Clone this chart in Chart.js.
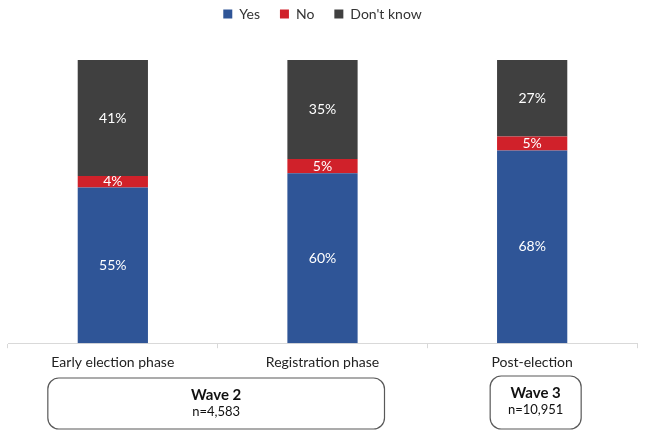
<!DOCTYPE html>
<html>
<head>
<meta charset="utf-8">
<script src="https://cdn.jsdelivr.net/npm/chart.js@4/dist/chart.umd.min.js"></script>
<style>
  html, body { margin: 0; padding: 0; background: #fff; }
  #wrap { width: 650px; height: 444px; }
</style>
</head>
<body>
<div id="wrap"><canvas id="stacked-bar-chart"></canvas></div>
<script>
// Chart data
var categories = ['Early election phase', 'Registration phase', 'Post-election'];
var yesValues = [55, 60, 68];
var noValues = [4, 5, 5];
var dontKnowValues = [41, 35, 27];

// Waves shown under the axis
var waveNames = ['Wave 2', 'Wave 3'];
var waveSamples = ['n=4,583', 'n=10,951'];
var waveFirstCategory = [0, 2];
var waveLastCategory = [1, 2];

var FONT = 'Lato, "Noto Sans", sans-serif';

// white percentage labels inside each segment
var segmentLabels = {
    id: 'segmentLabels',
    afterDatasetsDraw: function (chart) {
        var ctx = chart.ctx;
        ctx.save();
        ctx.fillStyle = '#ffffff';
        ctx.font = '14px ' + FONT;
        ctx.textAlign = 'center';
        ctx.textBaseline = 'middle';
        chart.data.datasets.forEach(function (ds, i) {
            chart.getDatasetMeta(i).data.forEach(function (bar, j) {
                var mid = (bar.y + bar.base) / 2;
                ctx.fillText(ds.data[j] + '%', bar.x, mid);
            });
        });
        ctx.restore();
    }
};

// rounded wave boxes below the category labels
var waveBoxes = {
    id: 'waveBoxes',
    afterDraw: function (chart) {
        var ctx = chart.ctx;
        var x = chart.scales.x;
        ctx.save();
        waveNames.forEach(function (name, i) {
            var left, right, top;
            if (waveFirstCategory[i] !== waveLastCategory[i]) {
                left = x.getPixelForValue(waveFirstCategory[i]) - 65;
                right = x.getPixelForValue(waveLastCategory[i]) + 62;
                top = 378;
            } else {
                left = x.getPixelForValue(waveFirstCategory[i]) - 42;
                right = x.getPixelForValue(waveLastCategory[i]) + 49;
                top = 376;
            }
            var bottom = 429;
            ctx.beginPath();
            ctx.roundRect(left, top, right - left, bottom - top, 11);
            ctx.strokeStyle = '#595959';
            ctx.lineWidth = 1.2;
            ctx.stroke();
            var cx = (left + right) / 2;
            ctx.fillStyle = '#111111';
            ctx.textAlign = 'center';
            ctx.textBaseline = 'middle';
            ctx.font = 'bold 15px ' + FONT;
            ctx.fillText(name, cx, top + 17);
            ctx.font = '13px ' + FONT;
            ctx.fillText(waveSamples[i], cx, top + 34);
        });
        ctx.restore();
    }
};

// legend sits close to the top, with extra room under it
var legendSpace = {
    id: 'legendSpace',
    beforeInit: function (chart) {
        var fit = chart.legend.fit;
        chart.legend.fit = function () {
            fit.bind(chart.legend)();
            this.height += 29;
        };
    }
};

var ctx = document.getElementById('stacked-bar-chart');

var chartData = {
    labels: categories,
    datasets: [
        { label: 'Yes', data: yesValues, backgroundColor: '#2F5597' },
        { label: 'No', data: noValues, backgroundColor: '#D0212A' },
        { label: "Don't know", data: dontKnowValues, backgroundColor: '#404040' }
    ]
};

var chartOptions = {
    responsive: true,
    maintainAspectRatio: false,
    animation: false,
    datasets: {
        bar: { barPercentage: 0.335, categoryPercentage: 1 }
    },
    layout: { padding: { left: 8, right: 13, top: -13, bottom: 67 } },
    plugins: {
        legend: {
            position: 'top',
            labels: {
                boxWidth: 9,
                boxHeight: 9,
                padding: 20,
                color: '#333333',
                font: { family: FONT, size: 14 }
            }
        },
        tooltip: { enabled: false }
    },
    scales: {
        x: {
            stacked: true,
            grid: { display: true, drawOnChartArea: false, tickLength: 5, color: '#d9d9d9' },
            border: { color: '#d9d9d9' },
            ticks: { color: '#222222', padding: 6, font: { family: FONT, size: 14 } }
        },
        y: {
            stacked: true,
            display: false,
            min: 0,
            max: 100
        }
    }
};

var barChart = new Chart(ctx, {
    type: 'bar',
    data: chartData,
    options: chartOptions,
    plugins: [segmentLabels, waveBoxes, legendSpace]
});
</script>
</body>
</html>
